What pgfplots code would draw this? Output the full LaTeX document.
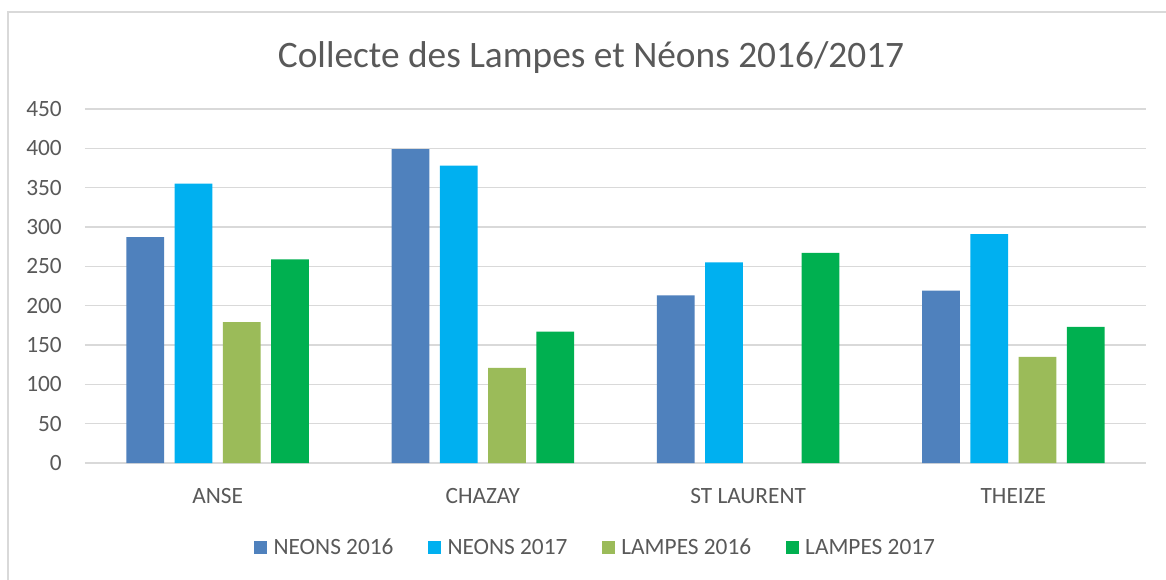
\documentclass[border=0pt]{standalone}
\usepackage{pgfplots}
\pgfplotsset{compat=1.18}
\usepackage{fontspec}
\setmainfont{Carlito}
\definecolor{txt}{HTML}{595959}
\definecolor{gridc}{HTML}{D9D9D9}
\definecolor{cA}{HTML}{4F81BD}
\definecolor{cB}{HTML}{00B0F0}
\definecolor{cC}{HTML}{9BBB59}
\definecolor{cD}{HTML}{00B050}
\begin{document}
\begin{tikzpicture}
\path[use as bounding box] (-63.75pt,-87pt) rectangle (810.75pt,347.25pt);
\fill[white] (-63.75pt,-87pt) rectangle (810.75pt,347.25pt);
\draw[gridc, line width=1.5pt] (-57.75pt,-90pt) -- (-57.75pt,338.25pt) -- (815pt,338.25pt);
\begin{axis}[
 at={(0,0)}, anchor=south west,
 scale only axis, width=795.75pt, height=265.5pt,
 xmin=-0.5, xmax=3.5, ymin=0, ymax=450,
 ytick={0,50,...,450}, xtick={0,1,2,3},
 xticklabels={ANSE,CHAZAY,ST LAURENT,THEIZE},
 ymajorgrids, major grid style={gridc, line width=0.9pt},
 axis line style={draw=none}, major tick style={draw=none},
 tick label style={font=\fontsize{17.5}{21}\selectfont, text=txt},
 /pgf/number format/assume math mode=true,
 yticklabel style={anchor=east, inner sep=0pt, xshift=-17.25pt},
 xticklabel style={anchor=base, inner sep=0pt, yshift=-26.25pt},
 ybar, bar width=28.3pt,
 legend columns=4,
 legend cell align=left,
 legend style={at={(0.4816,-0.240)}, anchor=center, draw=none, fill=none,
   font=\fontsize{17.5}{21}\selectfont, text=txt,
   /tikz/every odd column/.append style={column sep=3pt},
   /tikz/every even column/.append style={column sep=24pt}},
 legend image code/.code={\fill[#1] (0pt,-4.5pt) rectangle (9.5pt,5pt);},
]
\addplot[fill=cA, draw=none, bar shift=-54.2pt] coordinates {(0,287) (1,399) (2,213) (3,219)};
\addplot[fill=cB, draw=none, bar shift=-18.1pt] coordinates {(0,355) (1,378) (2,255) (3,291)};
\addplot[fill=cC, draw=none, bar shift=18.1pt] coordinates {(0,179) (1,121) (3,135)};
\addplot[fill=cD, draw=none, bar shift=54.2pt] coordinates {(0,259) (1,167) (2,267) (3,173)};
\legend{NEONS 2016, NEONS 2017, LAMPES 2016, LAMPES 2017}
\end{axis}
\node[text=txt, font=\fontsize{28}{32}\selectfont] at (379.5pt,303.75pt) {Collecte des Lampes et Néons 2016/2017};
\end{tikzpicture}
\end{document}
